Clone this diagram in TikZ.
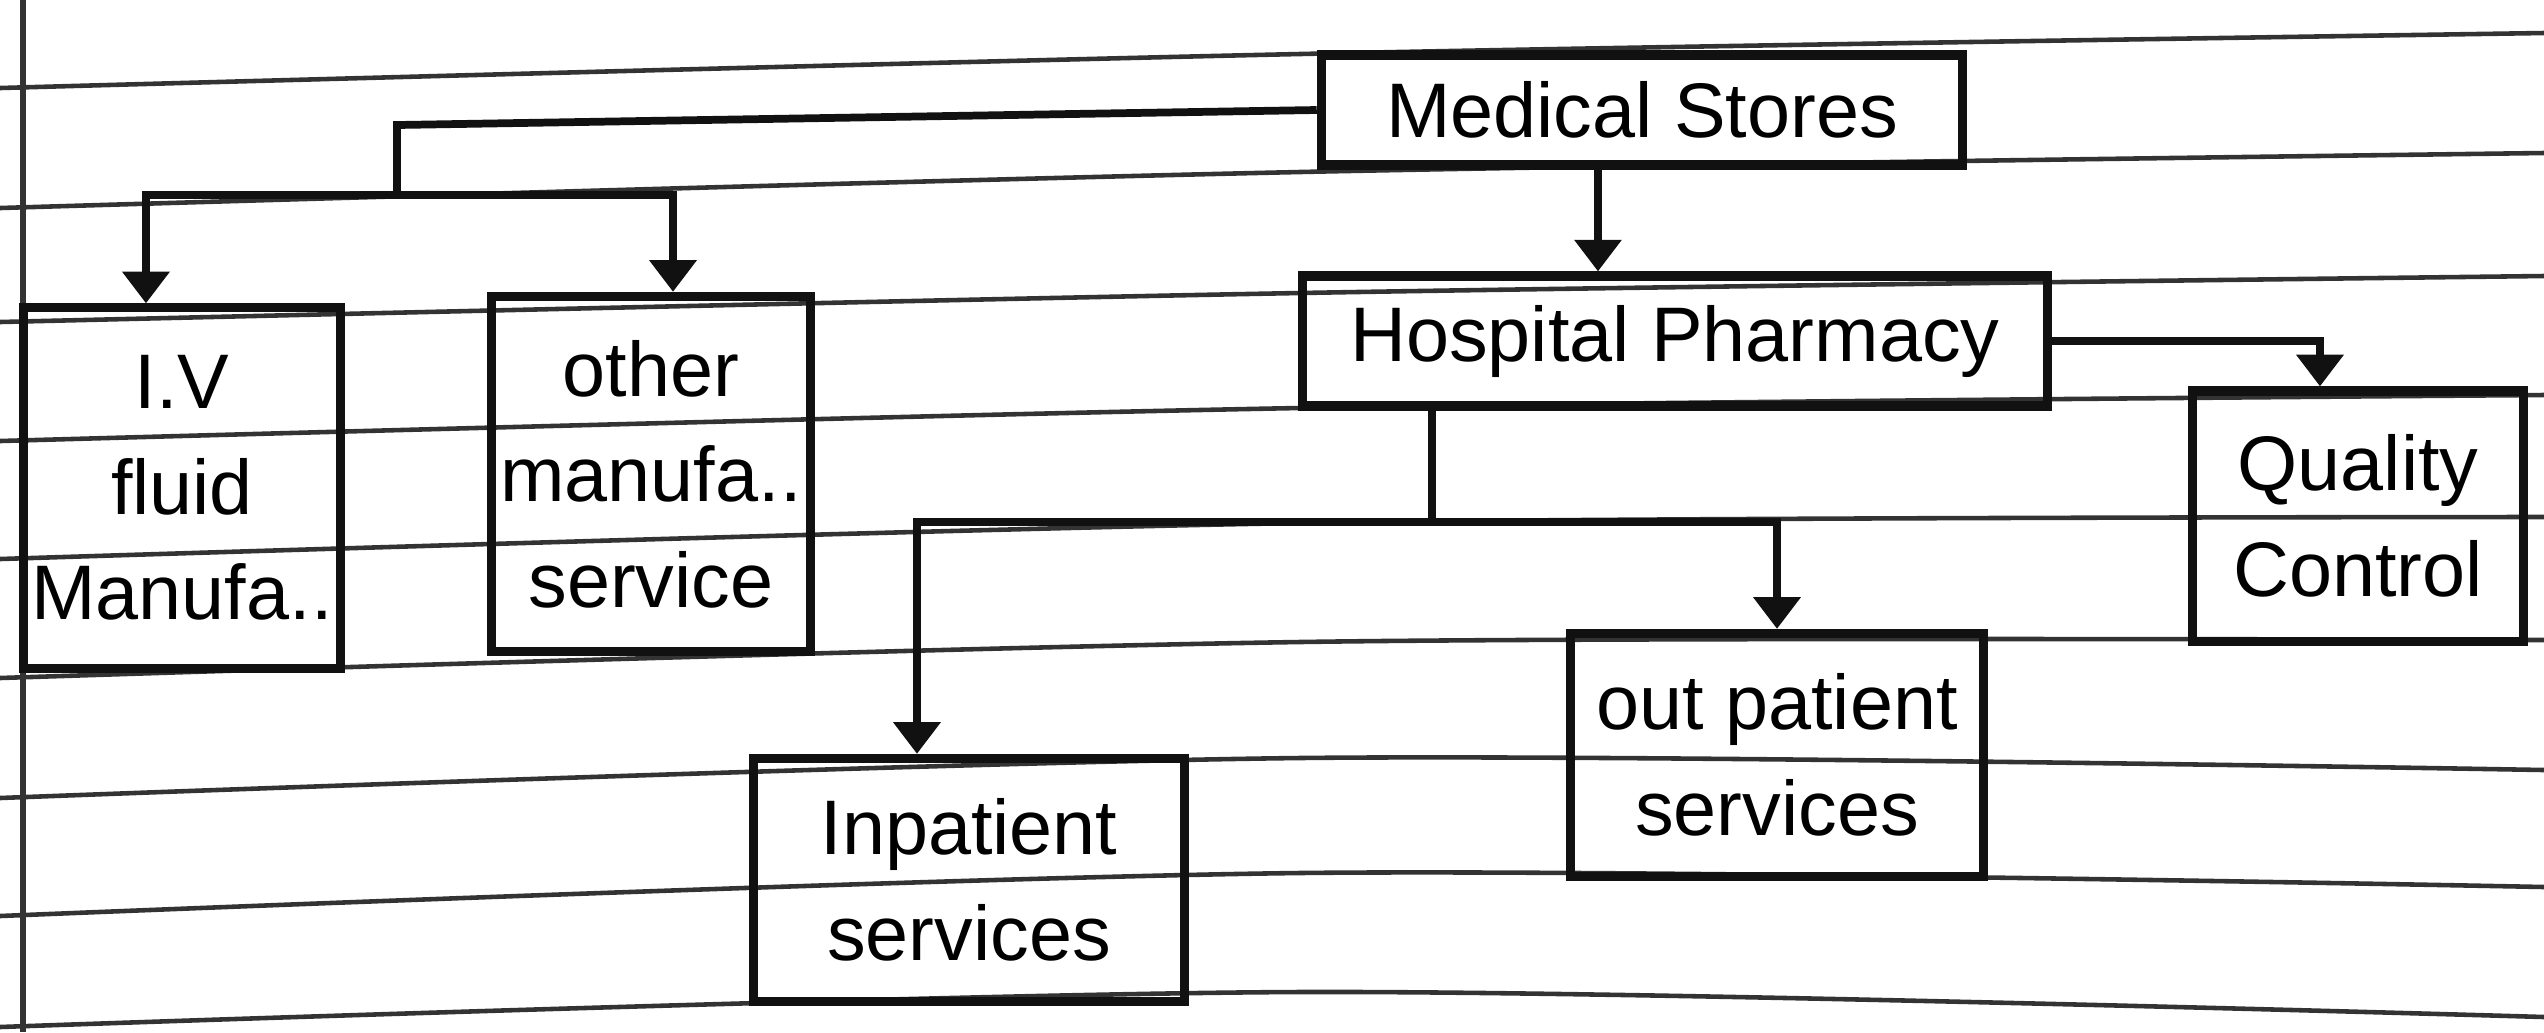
\documentclass[tikz,border=0pt]{standalone}
\usepackage{fontspec}
\setmainfont{Liberation Sans}
\usetikzlibrary{arrows.meta,positioning}
\definecolor{ink}{HTML}{111111}
\definecolor{paperline}{HTML}{333333}

\begin{document}
\begin{tikzpicture}[
  x=0.01cm, y=-0.01cm,
  blk/.style={draw=ink,line width=2.6pt,align=center,inner sep=2pt,
              font=\fontsize{22}{30}\selectfont},
  link/.style={draw=ink,line width=2.2pt},
  arr/.style={link,-{Triangle[width=13pt,length=9pt]}},
  ruling/.style={draw=paperline,line width=1.3pt}
]
\useasboundingbox (0,0) rectangle (2544,1032);
% ruled page
\foreach \a/\m/\b in {88/54/33,208/172/153,322/293/276,441/408/395,559/523/517,
                      678/642/640,798/758/770,916/873/887,1027/992/1017}
  \draw[ruling] plot[smooth] coordinates {(0,\a) (1300,\m) (2544,\b)};
\draw[ruling,line width=1.6pt] (23,0) -- (23,1032);

\node[blk,minimum width=6.41cm,minimum height=1.1cm] (ms) at (1642,110) {Medical Stores};
\node[blk,minimum width=7.44cm,minimum height=1.3cm] (hp) at (1675,341) {Hospital Pharmacy};
\node[blk,minimum width=3.3cm,minimum height=2.5cm] (qc) at (2358,516) {Quality\\Control};
\node[blk,minimum width=3.17cm,minimum height=3.6cm] (iv) at (182,488) {I.V\\fluid\\Manufa..};
\node[blk,minimum width=3.19cm,minimum height=3.55cm] (om) at (651,474) {other\\manufa..\\service};
\node[blk,minimum width=4.3cm,minimum height=2.43cm] (ip) at (969,880) {Inpatient\\services};
\node[blk,minimum width=4.13cm,minimum height=2.43cm] (op) at (1777,755) {out patient\\services};

\coordinate (bend1) at (397,125);
\coordinate (split1) at (397,195);
\coordinate (split2) at (1432,522);

\draw[link] (ms.west) -- (bend1) -- (split1);
\draw[arr] (split1) -| ([xshift=-0.36cm]iv.north);
\draw[arr] (split1) -| ([xshift=0.22cm]om.north);
\draw[arr] ([xshift=-0.44cm]ms.south) -- ([xshift=-0.44cm]ms.south |- hp.north);
\draw[arr] (hp.east) -| ([xshift=-0.38cm]qc.north);
\draw[link] (split2 |- hp.south) -- (split2);
\draw[arr] (split2) -| ([xshift=-0.52cm]ip.north);
\draw[arr] (split2) -| (op.north);
\end{tikzpicture}
\end{document}
